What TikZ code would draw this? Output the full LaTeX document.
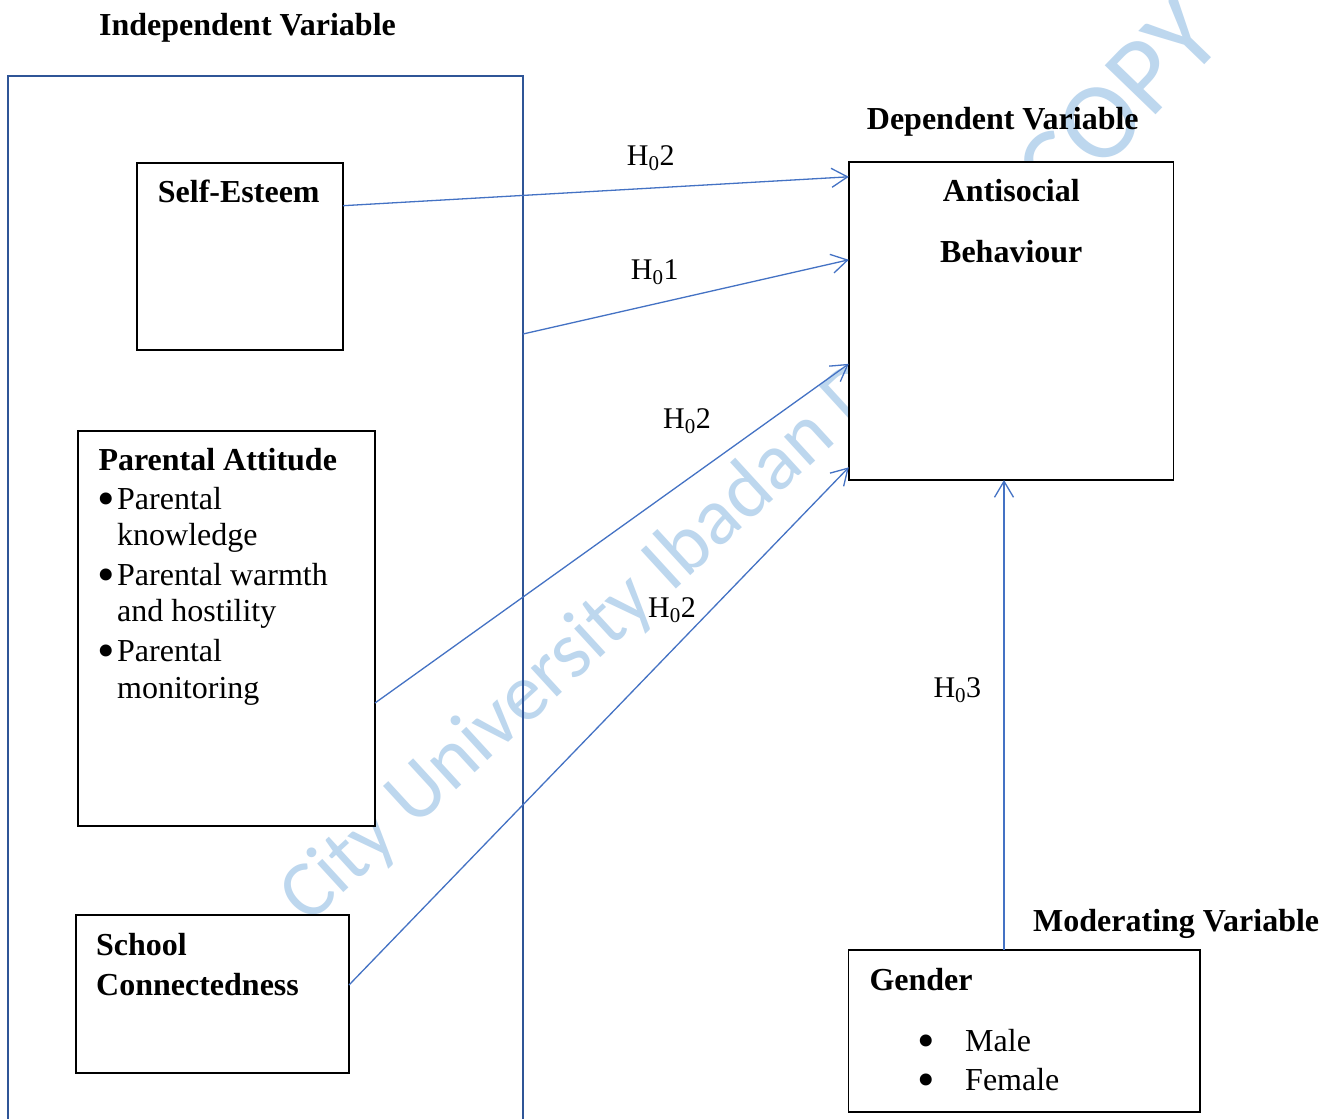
\documentclass[tikz,border=0pt]{standalone}
\usepackage{fontspec}
\setmainfont{Liberation Serif}
\newfontfamily\wmfont{Carlito}
\usetikzlibrary{arrows.meta,calc}
\definecolor{boxblue}{RGB}{47,85,151}
\definecolor{arrblue}{RGB}{68,114,196}
\definecolor{wmblue}{RGB}{189,215,238}
\begin{document}
\begin{tikzpicture}[x=1pt,y=-1pt,
  box/.style={draw=black,line width=1.7pt,fill=white,rectangle,inner sep=0pt,outer sep=0pt,anchor=north west},
  txt/.style={inner sep=0pt,anchor=base west,font={\fontsize{32}{38}\selectfont}},
  btxt/.style={inner sep=0pt,anchor=base west,font={\fontsize{32}{38}\selectfont\bfseries}},
  bul/.style={inner sep=0pt,anchor=base west,font={\fontsize{50}{50}\selectfont}},
  hl/.style={inner sep=0pt,anchor=base west,font={\fontsize{30}{36}\selectfont}},
  arr/.style={draw=arrblue,line width=1.3pt,-{Straight Barb[length=16pt,width=19pt]}},
  wm/.style={inner sep=0pt,anchor=base west,text=wmblue}]
\useasboundingbox (0,0) rectangle (1336,1119);
\fill[white] (0,0) rectangle (1336,1119);
% watermark
\node[wm,rotate=42.5,font={\wmfont\fontsize{81}{90}\selectfont}] (wm1) at (308,926) {City University Ibadan D};
\node[wm,rotate=46,font={\wmfont\fontsize{110}{120}\selectfont}] (wm2) at (1060,215) {COPY};
% independent variable frame
\node[draw=boxblue,line width=2.8pt,rectangle,inner sep=0pt,outer sep=0pt,anchor=north west,minimum width=515pt,minimum height=1080pt] (iv) at (8,76) {};
% boxes
\node[box,minimum width=205.7pt,minimum height=187.3pt] (se) at (137.3,162.7) {};
\node[box,minimum width=297pt,minimum height=395pt] (pa) at (78,431) {};
\node[box,minimum width=273.3pt,minimum height=157.7pt] (sc) at (75.7,915) {};
\node[box,minimum width=324.7pt,minimum height=317.7pt] (ab) at (848.8,162.3) {};
\node[box,minimum width=351.5pt,minimum height=162.3pt] (gd) at (848.5,950) {};
% headings
\node[btxt] (tiv) at (99,35) {Independent Variable};
\node[btxt] (tdv) at (866.7,129.3) {Dependent Variable};
\node[btxt] (tmv) at (1033,931) {Moderating Variable};
% box texts
\node[btxt] (tse) at (157.7,202.7) {Self-Esteem};
\node[btxt] (tpa) at (98.3,470) {Parental Attitude};
\node[bul] (b1) at (97,515) {\textbullet};
\node[txt] (p1) at (117,509) {Parental};
\node[txt] (p2) at (117,545) {knowledge};
\node[bul] (b2) at (97,591) {\textbullet};
\node[txt] (p3) at (117,585) {Parental warmth};
\node[txt] (p4) at (117,621.7) {and hostility};
\node[bul] (b3) at (97,667.7) {\textbullet};
\node[txt] (p5) at (117,661.7) {Parental};
\node[txt] (p6) at (117,698.3) {monitoring};
\node[btxt] (ts1) at (96,955) {School};
\node[btxt] (ts2) at (96,995) {Connectedness};
\node[btxt,anchor=base] (ta1) at (1011.3,201.7) {Antisocial};
\node[btxt,anchor=base] (ta2) at (1011.3,262.7) {Behaviour};
\node[btxt] (tg) at (869.3,990.7) {Gender};
\node[bul] (gb1) at (917,1057.7) {\textbullet};
\node[txt] (gm) at (965,1051.7) {Male};
\node[bul] (gb2) at (917,1096.7) {\textbullet};
\node[txt] (gf) at (965,1090.7) {Female};
% hypothesis labels
\node[hl] (h1) at (626.7,165) {H\textsubscript{0}2};
\node[hl] (h2) at (630.7,279.3) {H\textsubscript{0}1};
\node[hl] (h3) at (663,428.3) {H\textsubscript{0}2};
\node[hl] (h4) at (648,617) {H\textsubscript{0}2};
\node[hl] (h5) at (933.3,697.3) {H\textsubscript{0}3};
% connectors
\draw[arr] ($(se.north east)+(0,43)$) -- ($(ab.north west)+(0,14.5)$);
\draw[arr] ($(iv.north east)+(0,258)$) -- ($(ab.north west)+(0,97.5)$);
\draw[arr] ($(pa.north east)+(0,272)$) -- ($(ab.north west)+(0,201.5)$);
\draw[arr] ($(sc.north east)+(0,70)$) -- ($(ab.north west)+(0,305)$);
\coordinate (g1) at ($(gd.north west)+(155.5,0)$);
\draw[arr] (g1) -- (g1 |- ab.south);
\end{tikzpicture}
\end{document}
